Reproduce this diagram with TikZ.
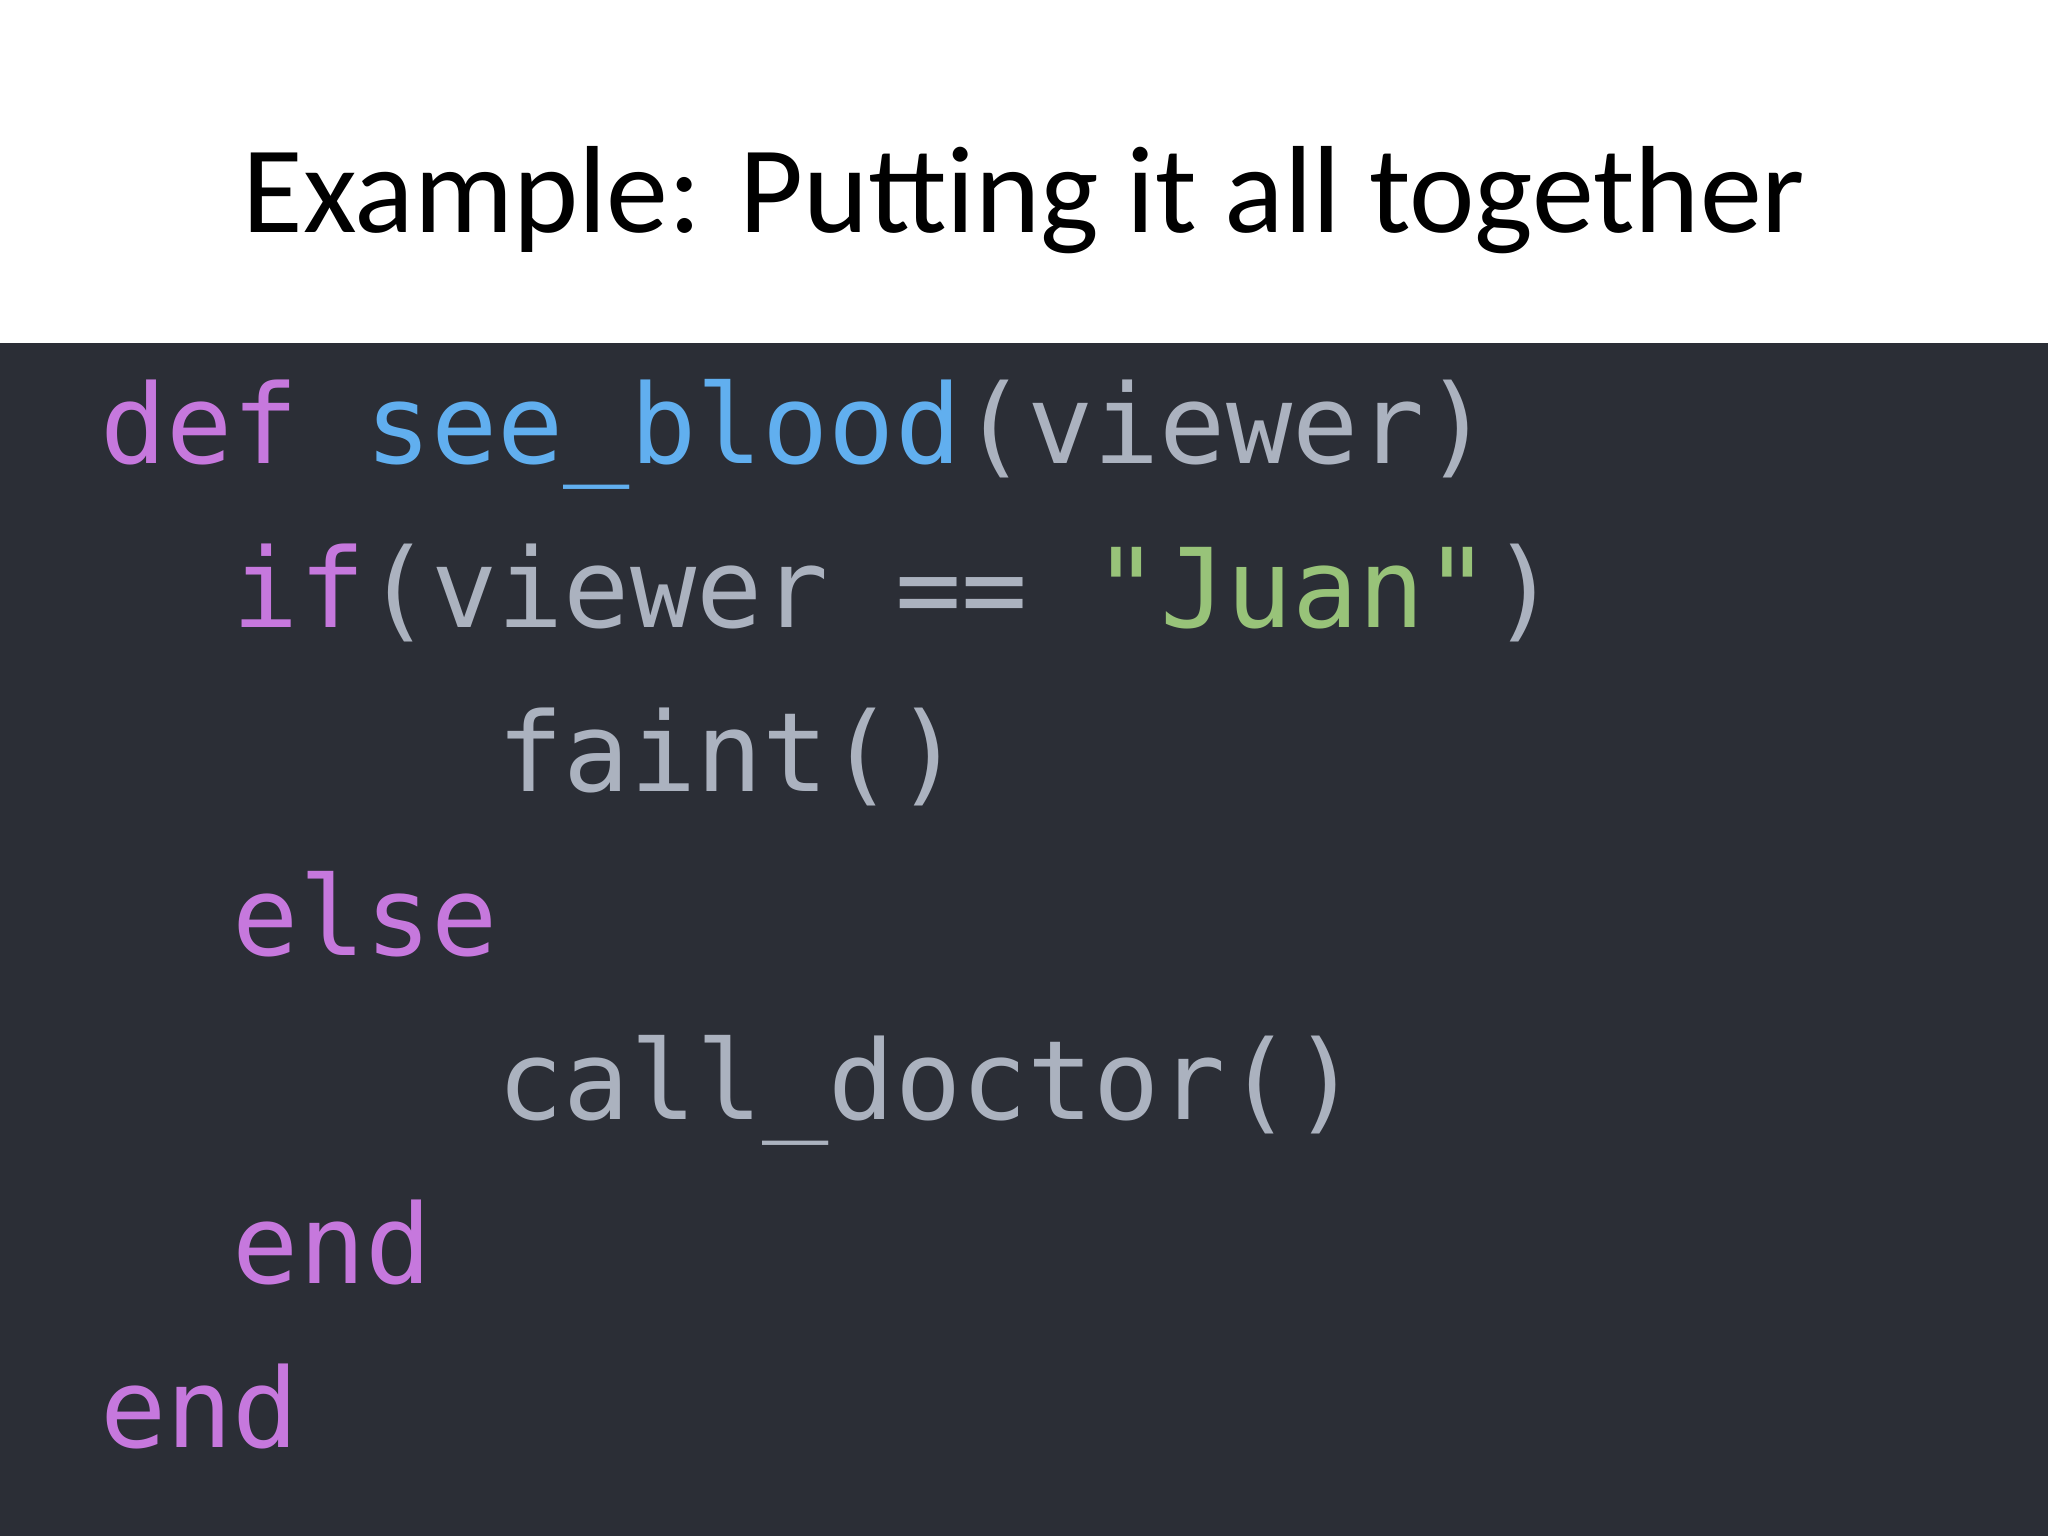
\documentclass[tikz,border=0pt]{standalone}
\usepackage{fontspec}
\setmainfont{Carlito}
\newfontfamily\codefont{DejaVu Sans Mono}
\definecolor{bgdark}{HTML}{2B2E36}
\definecolor{kw}{HTML}{C678DD}
\definecolor{fn}{HTML}{61AFEF}
\definecolor{tx}{HTML}{ABB2BF}
\definecolor{st}{HTML}{98C379}
\begin{document}
\begin{tikzpicture}[x=1pt,y=1pt,
  codeline/.style={anchor=base west,inner sep=0pt,font=\codefont\fontsize{55}{60}\selectfont,text=tx}]
\useasboundingbox (0,0) rectangle (1024,-768);
\fill[white] (0,0) rectangle (1024,-768);
\fill[bgdark] (0,-171.7) rectangle (1024,-768);
\node[anchor=base,inner sep=0pt,font=\fontsize{62}{70}\selectfont] (title) at (512,-116) {Example: Putt\kern0pt ing it all together};
\node[codeline] (l1) at (50,-231.8) {\textcolor{kw}{def} \textcolor{fn}{see\_blood}(viewer)};
\node[codeline] (l2) at (50,-313.8) {\phantom{xx}\textcolor{kw}{if}(viewer == \textcolor{st}{"Juan"})};
\node[codeline] (l3) at (50,-395.8) {\phantom{xxxxxx}faint()};
\node[codeline] (l4) at (50,-477.8) {\phantom{xx}\textcolor{kw}{else}};
\node[codeline] (l5) at (50,-559.8) {\phantom{xxxxxx}call\_doctor()};
\node[codeline] (l6) at (50,-641.8) {\phantom{xx}\textcolor{kw}{end}};
\node[codeline] (l7) at (50,-723.8) {\textcolor{kw}{end}};
\end{tikzpicture}
\end{document}
